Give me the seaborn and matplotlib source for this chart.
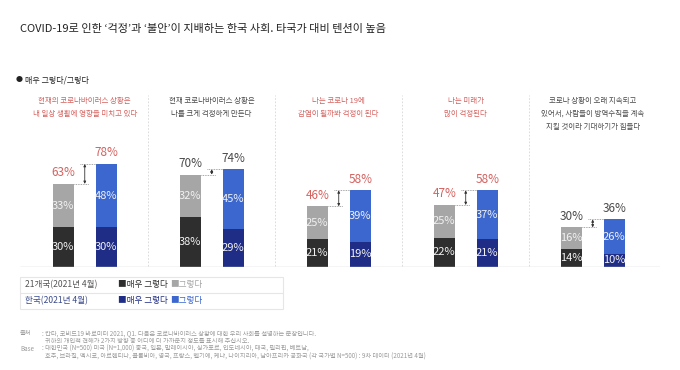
import matplotlib
matplotlib.use("Agg")
import matplotlib.pyplot as plt
from matplotlib.patches import Rectangle
from matplotlib.lines import Line2D
import seaborn as sns
import pandas as pd

sns.set_theme(style="white")
plt.rcParams['font.family'] = ['Noto Sans CJK KR', 'DejaVu Sans']

# ---------------- data ----------------
questions = ["q1", "q2", "q3", "q4", "q5"]
question_titles = [
    "현재의 코로나바이러스 상황은\n내 일상 생활에 영향을 미치고 있다",
    "현재 코로나바이러스 상황은\n나를 크게 걱정하게 만든다",
    "나는 코로나 19에\n감염이 될까봐 걱정이 된다",
    "나는 미래가\n많이 걱정된다",
    "코로나 상황이 오래 지속되고\n있어서, 사람들이 방역수칙을 계속\n지킬 것이라 기대하기가 힘들다",
]
regions = ["21개국(2021년 4월)", "한국(2021년 4월)"]
global_very = [30, 38, 21, 22, 14]
global_some = [33, 32, 25, 25, 16]
korea_very = [30, 29, 19, 21, 10]
korea_some = [48, 45, 39, 37, 26]
highlight = [True, False, True, True, False]

title = "COVID-19로 인한 ‘걱정’과 ‘불안’이 지배하는 한국 사회. 타국가 대비 텐션이 높음"
subtitle = "매우 그렇다/그렇다"
legend_very = "■매우 그렇다"
legend_some = "■그렇다"
notes = [
    ("출처", ": 칸타, 코비드19 바로미터 2021, Q1. 다음은 코로나바이러스 상황에 대한 우리 사회를 설명하는 문장입니다."),
    ("", "귀하의 개인적 견해가 2가지 방향 중 어디에 더 가까운지 정도를 표시해 주십시오."),
    ("Base", ": 대한민국 (N=500) 미국 (N=1,000) 중국, 일본, 말레이시아, 싱가포르, 인도네시아, 태국, 필리핀, 베트남,"),
    ("", "호주, 브라질, 멕시코, 아르헨티나, 콜롬비아, 영국, 프랑스, 벨기에, 케냐, 나이지리아, 남아프리카 공화국 (각 국가별 N=500) : 9차 데이터 (2021년 4월)"),
]

rows = []
for i, q in enumerate(questions):
    rows.append(dict(q=q, region=regions[0], very=global_very[i], some=global_some[i]))
    rows.append(dict(q=q, region=regions[1], very=korea_very[i], some=korea_some[i]))
df = pd.DataFrame(rows)
df["total"] = df["very"] + df["some"]

# ---------------- colours ----------------
c_gray = "#a6a6a6"
c_dark = "#2e2e2e"
c_blue = "#3b67cf"
c_navy = "#1f2d87"
c_red = "#d4625f"
c_txt = "#4a4a4a"

W, H = 680, 370
fig = plt.figure(figsize=(W / 100, H / 100), dpi=100)
fig.patch.set_facecolor("white")

base_px = 267
top_px = 88
ppu = 1.32
ax = fig.add_axes([20 / W, (H - base_px) / H, 640 / W, (base_px - top_px) / H])

common = dict(data=df, x="q", hue="region", order=questions, hue_order=regions,
              width=0.676, gap=0.51, errorbar=None, legend=False, saturation=1,
              linewidth=0, ax=ax)
sns.barplot(y="total", palette=[c_gray, c_blue], **common)
sns.barplot(y="very", palette=[c_dark, c_navy], **common)

ax.set_xlim(-0.51, 4.53)
ax.set_ylim(0, (base_px - top_px) / ppu)
for s in ax.spines.values():
    s.set_visible(False)
ax.set_xticks([])
ax.set_yticks([])
ax.set_xlabel("")
ax.set_ylabel("")
ax.axhline(0, color="#cfcfcf", lw=1.0, zorder=5)

total_bars = ax.containers[0:2]
very_bars = ax.containers[2:4]

for i in range(len(questions)):
    col = c_red if highlight[i] else c_txt
    g_tot = total_bars[0][i]
    k_tot = total_bars[1][i]
    g_very = very_bars[0][i]
    k_very = very_bars[1][i]
    for tot, very in ((g_tot, g_very), (k_tot, k_very)):
        xc = tot.get_x() + tot.get_width() / 2
        ht = tot.get_height()
        hv = very.get_height()
        ax.text(xc, ht + 3.5, f"{ht:.0f}%", ha="center", va="bottom", fontsize=8.5, color=col)
        ax.text(xc, hv / 2, f"{hv:.0f}%", ha="center", va="center", fontsize=8, color="#f2f2f2")
        ax.text(xc, hv + (ht - hv) / 2, f"{ht - hv:.0f}%", ha="center", va="center",
                fontsize=8, color="#f2f2f2")
    # gap arrow
    gx = g_tot.get_x() + g_tot.get_width()
    kx = k_tot.get_x()
    mid = (gx + kx) / 2
    gh = g_tot.get_height()
    kh = k_tot.get_height()
    ax.plot([gx, mid + 0.035], [gh, gh], ls=(0, (1, 1)), color="#8a8a8a", lw=0.6)
    ax.plot([mid - 0.035, kx], [kh, kh], ls=(0, (1, 1)), color="#8a8a8a", lw=0.6)
    ax.annotate("", xy=(mid, kh), xytext=(mid, gh),
                arrowprops=dict(arrowstyle="<|-|>", color="#333333", lw=0.6,
                                mutation_scale=3.5, shrinkA=0, shrinkB=0))
    # question title
    ax.text(i, (base_px - 97) / ppu, question_titles[i], ha="center", va="top",
            fontsize=5.4, color=col, linespacing=1.85)

for b in range(len(questions) - 1):
    ax.plot([b + 0.5, b + 0.5], [1, (base_px - 95) / ppu], ls=(0, (2, 2)),
            color="#d6d6d6", lw=0.6)


def fy(py):
    return (H - py) / H


def fx(px):
    return px / W


fig.text(fx(20), fy(29), title, fontsize=8.0, color="#222222", va="center", ha="left")
fig.text(fx(16), fy(80), "●", fontsize=5, color="#222222", va="center", ha="left")
fig.text(fx(25), fy(80), subtitle, fontsize=5.8, color="#222222", va="center", ha="left")

# legend table
fig.add_artist(Rectangle((fx(20), fy(309)), fx(263), (309 - 277) / H,
                         transform=fig.transFigure, fill=False, ec="#e6e6e6", lw=0.8))
fig.add_artist(Line2D([fx(20), fx(283)], [fy(292.5), fy(292.5)],
                      transform=fig.transFigure, color="#e6e6e6", lw=0.8))
leg_rows = [(regions[0], "#555555", c_dark, c_gray, 285),
            (regions[1], "#3a4a8c", c_navy, c_blue, 300.5)]
for lab, lab_col, vcol, scol, py in leg_rows:
    fig.text(fx(25), fy(py), lab, fontsize=6.2, color=lab_col, va="center")
    fig.text(fx(118), fy(py), legend_very, fontsize=6.2, color=vcol, va="center")
    fig.text(fx(170), fy(py), legend_some, fontsize=6.2, color=scol, va="center")

# notes
for j, (head, body) in enumerate(notes):
    py = 333 + 8 * j
    if head:
        fig.text(fx(20), fy(py), head, fontsize=4.5, color="#9a9a9a", va="center")
    fig.text(fx(42) if body.startswith(":") else fx(45), fy(py), body,
             fontsize=4.5, color="#9a9a9a", va="center")

fig.savefig("out.png", dpi=100, facecolor="white")
